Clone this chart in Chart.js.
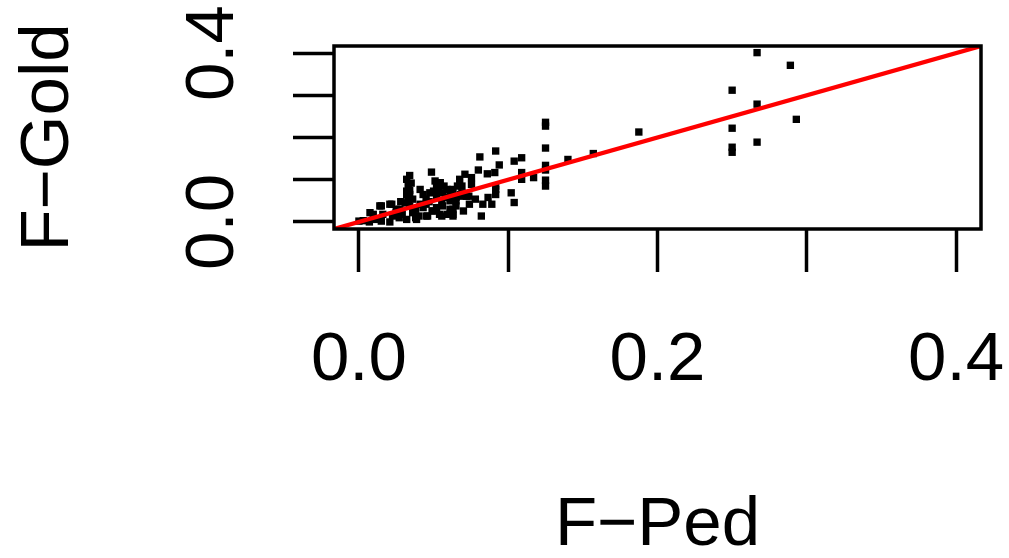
<!DOCTYPE html>
<html>
<head>
<meta charset="utf-8">
<script src="https://cdn.jsdelivr.net/npm/chart.js@4/dist/chart.umd.min.js"></script>
<style>
  html, body { margin: 0; padding: 0; background: #fff; }
  canvas { display: block; }
</style>
</head>
<body>
<canvas id="plot" width="1009" height="558"></canvas>
<script>
// F-Ped (x) vs F-Gold (y)
const fPed = [
  0.2667, 0.289, 0.250, 0.2667, 0.293, 0.250, 0.2667, 0.250, 0.250,
  0.1875, 0.157, 0.140,
  0.125, 0.125, 0.125, 0.125, 0.125, 0.125, 0.125,
  0.117, 0.109, 0.104, 0.109, 0.109, 0.102, 0.104,
  0.0916, 0.081, 0.094, 0.080, 0.086, 0.091, 0.0916, 0.0916, 0.0916, 0.0865, 0.089, 0.083, 0.082,
  0.071, 0.0754, 0.0754, 0.070, 0.074, 0.078, 0.072, 0.068, 0.063, 0.063, 0.0555, 0.0555, 0.066, 0.0675,
  0.034, 0.0486, 0.032, 0.033, 0.034, 0.032, 0.033, 0.041, 0.051, 0.053, 0.053, 0.059,
  0.0074, 0.014, 0.022, 0.016, 0.025, 0.027, 0.038, 0.046, 0.054, 0.000, 0.045, 0.049,
  0.0475, 0.043, 0.063, 0.0386, 0.032, 0.0207, 0.015, 0.0096, 0.015, 0.0207, 0.007,
  0.0274, 0.034, 0.036, 0.043, 0.052, 0.056, 0.061, 0.065, 0.069, 0.052, 0.056, 0.061,
  0.045, 0.036, 0.041, 0.025, 0.029, 0.0225, 0.0118, 0.0029, 0.061, 0.065, 0.059, 0.050,
  0.045, 0.040, 0.052, 0.0545, 0.050, 0.069, 0.069, 0.0736, 0.065, 0.032, 0.034, 0.057,
  0.063, 0.031, 0.038, 0.047, 0.058, 0.062, 0.035, 0.033, 0.028
];
const fGold = [
  0.401, 0.371, 0.312, 0.279, 0.243, 0.222, 0.189, 0.177, 0.165,
  0.213, 0.162, 0.148,
  0.236, 0.227, 0.175, 0.134, 0.123, 0.099, 0.085,
  0.105, 0.152, 0.144, 0.117, 0.101, 0.069, 0.046,
  0.168, 0.154, 0.135, 0.123, 0.114, 0.117, 0.085, 0.077, 0.065, 0.058, 0.042, 0.042, 0.014,
  0.113, 0.105, 0.089, 0.026, 0.042, 0.054, 0.061, 0.065, 0.030, 0.018, 0.014, 0.046, 0.085, 0.101,
  0.110, 0.118, 0.101, 0.085, 0.075, 0.065, 0.055, 0.077, 0.097, 0.085, 0.075, 0.077,
  0.022, 0.038, 0.042, 0.018, 0.030, 0.010, 0.010, 0.014, 0.018, 0.002, 0.042, 0.026,
  0.069, 0.065, 0.014, 0.006, 0.006, 0.042, 0.038, 0.018, 0.002, 0.000, 0.000,
  0.030, 0.038, 0.022, 0.034, 0.034, 0.038, 0.050, 0.058, 0.061, 0.061, 0.069, 0.069,
  0.054, 0.054, 0.042, 0.022, 0.018, 0.014, 0.006, 0.003, 0.030, 0.038, 0.018, 0.026,
  0.014, 0.014, 0.085, 0.093, 0.073, 0.085, 0.069, 0.061, 0.050, 0.073, 0.065, 0.085,
  0.077, 0.045, 0.030, 0.048, 0.058, 0.062, 0.092, 0.048, 0.048
];

// identity line y = x
const lineX = [-0.1, 0.5];
const lineY = [-0.1, 0.5];

const xTicks = [0, 0.1, 0.2, 0.3, 0.4];
const yTicks = [0, 0.1, 0.2, 0.3, 0.4];
const xLabels = ['0.0', '', '0.2', '', '0.4'];
const yLabels = ['0.0', '', '', '', '0.4'];

const axisMin = -0.0167;
const axisMax = 0.4167;

const FONT = "'Liberation Sans', Arial, Helvetica, sans-serif";

// box around the plot region, like R's box()
const boxPlugin = {
  id: 'box',
  afterDraw(chart) {
    const { ctx, chartArea: a } = chart;
    ctx.save();
    ctx.strokeStyle = '#000';
    ctx.lineWidth = 3.5;
    ctx.strokeRect(a.left, a.top, a.right - a.left, a.bottom - a.top);
    ctx.restore();
  }
};

// keep the plot region where R put it: no extra label padding
function noPad(s) {
  s.paddingLeft = 0;
  s.paddingRight = 0;
  s.paddingTop = 0;
  s.paddingBottom = 0;
}

new Chart(document.getElementById('plot'), {
  type: 'scatter',
  data: {
    datasets: [
      {
        type: 'line',
        data: lineX.map((x, i) => ({ x: x, y: lineY[i] })),
        borderColor: '#ff0000',
        borderWidth: 4.2,
        pointRadius: 0,
        fill: false,
        clip: 0
      },
      {
        data: fPed.map((x, i) => ({ x: x, y: fGold[i] })),
        pointStyle: 'rect',
        pointRadius: 5.2,
        backgroundColor: '#000',
        borderColor: '#000',
        borderWidth: 0
      }
    ]
  },
  plugins: [boxPlugin],
  options: {
    responsive: false,
    animation: false,
    devicePixelRatio: 1,
    layout: { padding: { left: 0, top: 46, right: 28, bottom: 0 } },
    plugins: {
      legend: { display: false },
      tooltip: { enabled: false }
    },
    scales: {
      x: {
        type: 'linear',
        min: axisMin,
        max: axisMax,
        afterBuildTicks: s => { s.ticks = xTicks.map(v => ({ value: v })); },
        afterFit: s => { s.height = 329; noPad(s); },
        border: { display: false },
        grid: { drawOnChartArea: false, drawTicks: true, tickLength: 43, tickColor: '#000', tickWidth: 3.5 },
        ticks: {
          autoSkip: false,
          minRotation: 0,
          maxRotation: 0,
          padding: 54,
          color: '#000',
          font: { family: FONT, size: 69, lineHeight: 1 },
          callback: (v, i) => xLabels[i]
        },
        title: {
          display: true,
          text: 'F−Ped',
          color: '#000',
          font: { family: FONT, size: 69, lineHeight: 0.9 },
          padding: { top: 0, bottom: 1 }
        }
      },
      y: {
        type: 'linear',
        min: axisMin,
        max: axisMax,
        afterBuildTicks: s => { s.ticks = yTicks.map(v => ({ value: v })); },
        afterFit: s => { s.width = 334; noPad(s); },
        border: { display: false },
        grid: { drawOnChartArea: false, drawTicks: true, tickLength: 41, tickColor: '#000', tickWidth: 3.5 },
        ticks: {
          autoSkip: false,
          minRotation: 90,
          maxRotation: 90,
          crossAlign: 'center',
          padding: 31,
          color: '#000',
          font: { family: FONT, size: 69, lineHeight: 1 },
          callback: (v, i) => yLabels[i]
        },
        title: {
          display: true,
          text: 'F−Gold',
          color: '#000',
          font: { family: FONT, size: 69, lineHeight: 1 },
          padding: { top: 14, bottom: 0 }
        }
      }
    }
  }
});
</script>
</body>
</html>
